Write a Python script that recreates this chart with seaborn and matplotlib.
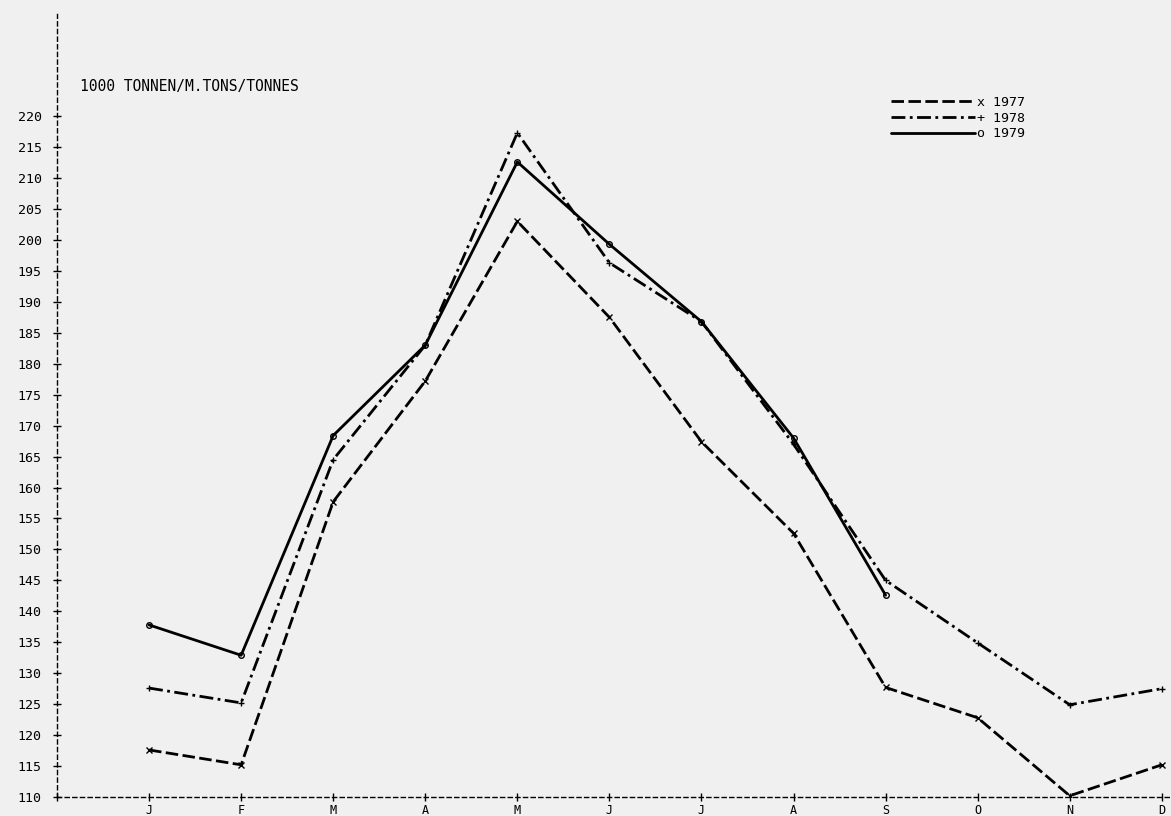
import pandas as pd
import matplotlib
matplotlib.use('Agg')
import matplotlib.pyplot as plt
from matplotlib.lines import Line2D
import seaborn as sns

# months along the x axis
month_labels = ['J', 'F', 'M', 'A', 'M', 'J', 'J', 'A', 'S', 'O', 'N', 'D']
month_pos = list(range(1, 13))

# 1000 tonnes
y1977 = [117.6, 115.2, 157.7, 177.2, 203.0, 187.5, 167.4, 152.6, 127.7, 122.8, 110.2, 115.2]
y1978 = [127.6, 125.2, 164.5, 183.0, 217.3, 196.3, 186.8, 167.0, 145.0, 134.9, 124.9, 127.5]
y1979 = [137.8, 132.9, 168.4, 183.0, 212.6, 199.3, 186.8, 168.0, 142.6]
years = ['1977', '1978', '1979']

series = dict(zip(years, [y1977, y1978, y1979]))

sns.set_style('white')
plt.rcParams['font.family'] = ['DejaVu Sans Mono', 'DejaVu Sans']
plt.rcParams['text.color'] = 'black'
plt.rcParams['xtick.color'] = 'black'
plt.rcParams['ytick.color'] = 'black'

bg = '#f0f0f0'
fig = plt.figure(figsize=(11.71, 8.16), dpi=100, facecolor=bg)
ax = fig.add_axes([57 / 1171, 19 / 816, (1171 - 57) / 1171, (797 - 14) / 816])
ax.set_facecolor(bg)

dash_style = {'1977': (0, (4.5, 1.6)), '1978': (0, (5, 1.6, 1, 1.6)), '1979': '-'}
markers = {'1977': 'x', '1978': '+', '1979': 'o'}
for yr in years:
    vals = series[yr]
    d = pd.DataFrame({'month': month_pos[:len(vals)], 'value': vals})
    sns.lineplot(data=d, x='month', y='value', color='black', linewidth=2.0,
                 linestyle=dash_style[yr], marker=markers[yr], markersize=4,
                 markerfacecolor='none', markeredgecolor='black',
                 markeredgewidth=1, ax=ax)

ax.set_xlim(0, 12.1)
ax.set_ylim(110, 236.5)
ax.set_xticks([0] + month_pos)
ax.set_xticklabels([''] + month_labels, fontsize=8.5)
ax.set_yticks(range(110, 221, 5))
ax.set_yticklabels([str(v) for v in range(110, 221, 5)], fontsize=9.5)
ax.tick_params(axis='both', direction='inout', length=6, width=1, color='black',
               left=True, bottom=True, labelcolor='black')
ax.tick_params(axis='y', pad=8)
ax.tick_params(axis='x', pad=2)
ax.set_xlabel('')
ax.set_ylabel('')

for side in ['top', 'right']:
    ax.spines[side].set_visible(False)
for side in ['left', 'bottom']:
    ax.spines[side].set_linestyle((0, (3, 2.5)))
    ax.spines[side].set_linewidth(1)
    ax.spines[side].set_color('black')

fig.text(80 / 1171, 1 - 87 / 816, '1000 TONNEN/M.TONS/TONNES', fontsize=10.5,
         va='center', ha='left', color='black')

handles = [Line2D([], [], color='black', lw=2.0, linestyle=dash_style[y]) for y in years]
labels = ['x 1977', '+ 1978', 'o 1979']
leg = fig.legend(handles, labels, loc='upper left', bbox_to_anchor=(884 / 1171, 1 - 89 / 816),
                 frameon=False, fontsize=9.5, handlelength=6.4, handletextpad=0.15,
                 labelspacing=0.22, borderpad=0)
for t in leg.get_texts():
    t.set_color('black')

fig.savefig('out.png', dpi=100, facecolor=bg)
